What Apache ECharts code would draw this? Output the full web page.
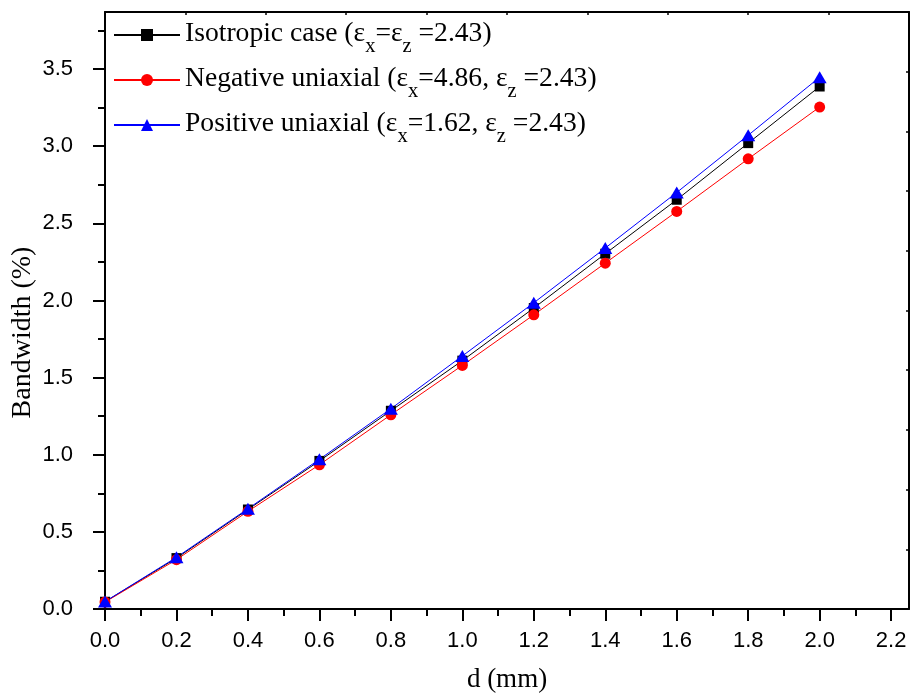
<!DOCTYPE html>
<html>
<head>
<meta charset="utf-8">
<script src="https://cdn.jsdelivr.net/npm/echarts@6/dist/echarts.min.js"></script>
<style>
  html, body { margin: 0; padding: 0; background: #fff; }
  #chart { width: 912px; height: 698px; }
</style>
</head>
<body>
<div id="chart"></div>
<script>
// Bandwidth versus substrate thickness d for three dielectric cases
const dValues = [0.0, 0.2, 0.4, 0.6, 0.8, 1.0, 1.2, 1.4, 1.6, 1.8, 2.0];
const isotropic = [0.047, 0.33, 0.645, 0.96, 1.285, 1.61, 1.951, 2.303, 2.653, 3.02, 3.387];
const negativeUniaxial = [0.045, 0.32, 0.633, 0.935, 1.259, 1.579, 1.907, 2.242, 2.577, 2.918, 3.254];
const positiveUniaxial = [0.048, 0.335, 0.65, 0.97, 1.298, 1.64, 1.985, 2.34, 2.70, 3.071, 3.447];

// Tick positions
const xMajorTicks = [0.0, 0.2, 0.4, 0.6, 0.8, 1.0, 1.2, 1.4, 1.6, 1.8, 2.0, 2.2];
const xMinorTicks = [0.1, 0.3, 0.5, 0.7, 0.9, 1.1, 1.3, 1.5, 1.7, 1.9, 2.1];
const yMajorTicks = [0.0, 0.5, 1.0, 1.5, 2.0, 2.5, 3.0, 3.5];
const yMinorTicks = [0.25, 0.75, 1.25, 1.75, 2.25, 2.75, 3.25, 3.75];

// Legend names: [text, subscript, text, subscript, text]
const seriesNames = [
  'Isotropic case (εx=εz =2.43)',
  'Negative uniaxial (εx=4.86, εz =2.43)',
  'Positive uniaxial (εx=1.62, εz =2.43)'
];
const legendParts = [
  ['Isotropic case (ε', 'x', '=ε', 'z', ' =2.43)'],
  ['Negative uniaxial (ε', 'x', '=4.86, ε', 'z', ' =2.43)'],
  ['Positive uniaxial (ε', 'x', '=1.62, ε', 'z', ' =2.43)']
];

const X_MAX = 2.25;
const Y_MAX = 3.87;
const SERIF = 'Liberation Serif, Times New Roman, serif';
const SANS = 'Liberation Sans, Arial, sans-serif';

function pairs(ys) { return dValues.map((x, i) => [x, ys[i]]); }

const chart = echarts.init(document.getElementById('chart'), null, { renderer: 'canvas' });

const blackLine = { color: '#000', width: 2 };

chart.setOption({
  animation: false,
  backgroundColor: '#fff',
  grid: { left: 105, right: 3, top: 12, bottom: 89, containLabel: false, outerBoundsMode: 'none' },
  legend: {
    orient: 'vertical',
    left: 108,
    top: 15,
    itemWidth: 66,
    itemHeight: 15,
    itemGap: 8,
    data: seriesNames,
    formatter: function (name) {
      const p = legendParts[seriesNames.indexOf(name)];
      return '{m|' + p[0] + '}{s|' + p[1] + '}{m|' + p[2] + '}{s|' + p[3] + '}{m|' + p[4] + '}';
    },
    textStyle: {
      color: '#000',
      fontFamily: SERIF,
      fontSize: 27.6,
      rich: {
        m: { fontFamily: SERIF, fontSize: 27.6, lineHeight: 30, verticalAlign: 'top', color: '#000' },
        s: { fontFamily: SERIF, fontSize: 20.5, lineHeight: 22, verticalAlign: 'top', padding: [16, 0, 0, 0], color: '#000' }
      }
    }
  },
  xAxis: [
    {
      type: 'value', position: 'bottom', min: 0, max: X_MAX,
      axisLine: { onZero: false, lineStyle: blackLine },
      axisTick: { customValues: xMajorTicks, length: 12, lineStyle: blackLine },
      axisLabel: {
        customValues: xMajorTicks, margin: 21, color: '#000', fontFamily: SANS, fontSize: 22,
        formatter: v => v.toFixed(1)
      },
      splitLine: { show: false },
      name: 'd (mm)', nameLocation: 'middle', nameGap: 57,
      nameTextStyle: { color: '#000', fontFamily: SERIF, fontSize: 27 }
    },
    {
      type: 'value', position: 'bottom', min: 0, max: X_MAX,
      axisLine: { show: false, onZero: false },
      axisTick: { customValues: xMinorTicks, length: 7, lineStyle: blackLine },
      axisLabel: { show: false },
      splitLine: { show: false }
    },
    {
      type: 'value', position: 'top', min: 0, max: X_MAX, interval: 0.225,
      axisLine: { onZero: false, lineStyle: blackLine },
      axisTick: { inside: true, length: 3, lineStyle: { color: '#000', width: 1.5 } },
      axisLabel: { show: false },
      splitLine: { show: false }
    }
  ],
  yAxis: [
    {
      type: 'value', position: 'left', min: 0, max: Y_MAX,
      axisLine: { show: true, onZero: false, lineStyle: blackLine },
      axisTick: { show: true, customValues: yMajorTicks, length: 12, lineStyle: blackLine },
      axisLabel: {
        customValues: yMajorTicks, margin: 32, color: '#000', fontFamily: SANS, fontSize: 22,
        formatter: v => v.toFixed(1)
      },
      splitLine: { show: false },
      name: 'Bandwidth (%)', nameLocation: 'middle', nameGap: 68, nameRotate: 90,
      nameMoveOverlap: false,
      nameTextStyle: { color: '#000', fontFamily: SERIF, fontSize: 28, padding: [0, 44, 0, 0] }
    },
    {
      type: 'value', position: 'left', min: 0, max: Y_MAX,
      axisLine: { show: false, onZero: false },
      axisTick: { show: true, customValues: yMinorTicks, length: 7, lineStyle: blackLine },
      axisLabel: { show: false },
      splitLine: { show: false }
    },
    {
      type: 'value', position: 'right', min: 0, max: Y_MAX, interval: 0.387,
      axisLine: { show: true, onZero: false, lineStyle: blackLine },
      axisTick: { show: true, inside: true, length: 3, lineStyle: { color: '#000', width: 1.5 } },
      axisLabel: { show: false },
      splitLine: { show: false }
    }
  ],
  series: [
    {
      name: seriesNames[0], type: 'line', xAxisIndex: 0, yAxisIndex: 0,
      data: pairs(isotropic), symbol: 'rect', symbolSize: 10,
      lineStyle: { color: '#000', width: 1 }, itemStyle: { color: '#000' }
    },
    {
      name: seriesNames[1], type: 'line', xAxisIndex: 0, yAxisIndex: 0,
      data: pairs(negativeUniaxial), symbol: 'circle', symbolSize: 11,
      lineStyle: { color: '#ff0000', width: 1 }, itemStyle: { color: '#ff0000' }
    },
    {
      name: seriesNames[2], type: 'line', xAxisIndex: 0, yAxisIndex: 0,
      data: pairs(positiveUniaxial), symbol: 'triangle', symbolSize: [14, 12],
      lineStyle: { color: '#0000ff', width: 1 }, itemStyle: { color: '#0000ff' }
    }
  ]
});
</script>
</body>
</html>
